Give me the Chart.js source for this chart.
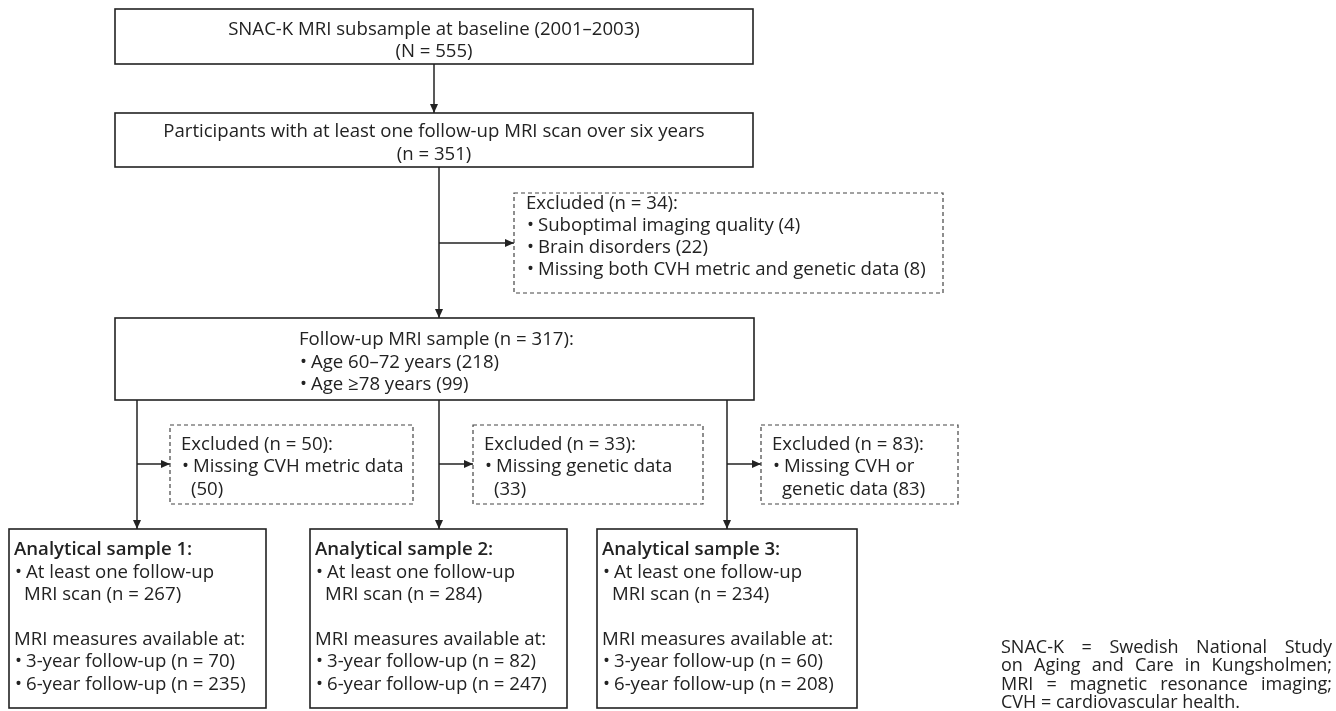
<!DOCTYPE html>
<html>
<head>
<meta charset="utf-8">
<script src="https://cdn.jsdelivr.net/npm/chart.js@4/dist/chart.umd.min.js"></script>
<style>
  html, body { margin: 0; padding: 0; background: #fff; }
  #wrap { width: 1336px; height: 711px; }
</style>
</head>
<body>
<div id="wrap"><canvas id="flow"></canvas></div>
<script>
// counts
const baselineN = 555;
const followUpN = 351;
const excludedScanReasons = ['Suboptimal imaging quality', 'Brain disorders', 'Missing both CVH metric and genetic data'];
const excludedScanCounts = [4, 22, 8];
const ageGroups = ['Age 60–72 years', 'Age ≥78 years'];
const ageCounts = [218, 99];
const branchReasons = [['Missing CVH metric data', '(%n)'], ['Missing genetic data', '(%n)'], ['Missing CVH or', 'genetic data (%n)']];
const branchExcluded = [50, 33, 83];
const sampleScanN = [267, 284, 234];
const sample3yr = [70, 82, 60];
const sample6yr = [235, 247, 208];
const footnote = [
  'SNAC-K = Swedish National Study',
  'on Aging and Care in Kungsholmen;',
  'MRI = magnetic resonance imaging;',
  'CVH = cardiovascular health.'
];

const sum = a => a.reduce((s, v) => s + v, 0);
const followUpSample = followUpN - sum(excludedScanCounts);

// layout of the boxes (diagram units)
const topBox = { x0: 115, y0: 9, x1: 753, y1: 64 };
const partBox = { x0: 115, y0: 113, x1: 753, y1: 167 };
const exclBox = { x0: 514, y0: 193, x1: 943, y1: 293 };
const mriBox = { x0: 115, y0: 318, x1: 754, y1: 400 };
const branchX = [137, 439, 727];
const branchBoxes = [
  { x0: 170, y0: 425, x1: 413, y1: 504 },
  { x0: 473, y0: 425, x1: 703, y1: 504 },
  { x0: 761, y0: 425, x1: 958, y1: 504 }
];
const sampleBoxes = [
  { x0: 9, y0: 529, x1: 266, y1: 708 },
  { x0: 310, y0: 529, x1: 567, y1: 708 },
  { x0: 597, y0: 529, x1: 857, y1: 708 }
];

const FONT = '"Open Sans", "Noto Sans", sans-serif';
const FS = 18.6;
const INK = '#222';
const TEXT_DY = 2.5; // canvas 'middle' sits a bit high for Open Sans

const flowPlugin = {
  id: 'flow',
  afterDraw(chart) {
    const { ctx } = chart;
    const xs = chart.scales.x, ys = chart.scales.y;
    const px = v => xs.getPixelForValue(v);
    const py = v => ys.getPixelForValue(v);

    ctx.save();
    ctx.strokeStyle = INK;
    ctx.fillStyle = INK;

    const box = (b, dashed) => {
      ctx.save();
      ctx.lineWidth = dashed ? 1.2 : 1.6;
      ctx.strokeStyle = dashed ? '#444' : INK;
      ctx.setLineDash(dashed ? [4, 3] : []);
      ctx.strokeRect(px(b.x0), py(b.y0), px(b.x1) - px(b.x0), py(b.y1) - py(b.y0));
      ctx.restore();
    };
    const line = (x0, y0, x1, y1) => {
      ctx.lineWidth = 1.5;
      ctx.beginPath();
      ctx.moveTo(px(x0), py(y0));
      ctx.lineTo(px(x1), py(y1));
      ctx.stroke();
    };
    const arrow = (x0, y0, x1, y1) => {
      const ang = Math.atan2(py(y1) - py(y0), px(x1) - px(x0));
      const L = 9, W = 4;
      const tx = px(x1), ty = py(y1);
      const bx = tx - L * Math.cos(ang), by = ty - L * Math.sin(ang);
      line(x0, y0, x1, y1);
      ctx.beginPath();
      ctx.moveTo(tx, ty);
      ctx.lineTo(bx + W * Math.sin(ang), by - W * Math.cos(ang));
      ctx.lineTo(bx - W * Math.sin(ang), by + W * Math.cos(ang));
      ctx.closePath();
      ctx.fill();
    };
    const text = (s, x, y, align, bold, size) => {
      ctx.font = (bold ? '600 ' : '') + (size || FS) + 'px ' + FONT;
      ctx.textAlign = align || 'left';
      ctx.textBaseline = 'middle';
      ctx.fillText(s, px(x), py(y + TEXT_DY));
    };
    const bullet = (s, x, y) => {
      text('•', x + 1, y);
      text(s, x + 12, y);
    };

    // top boxes
    box(topBox);
    text('SNAC-K MRI subsample at baseline (2001–2003)', 434, 27, 'center');
    text('(N = ' + baselineN + ')', 434, 49, 'center');
    arrow(434, topBox.y1, 434, partBox.y0);

    box(partBox);
    text('Participants with at least one follow-up MRI scan over six years', 434, 129, 'center');
    text('(n = ' + followUpN + ')', 434, 152, 'center');

    arrow(439, partBox.y1, 439, mriBox.y0);
    arrow(439, 243, exclBox.x0, 243);

    box(exclBox, true);
    text('Excluded (n = ' + sum(excludedScanCounts) + '):', 526, 201);
    excludedScanReasons.forEach((r, i) => bullet(r + ' (' + excludedScanCounts[i] + ')', 526, 223 + i * 22));

    box(mriBox);
    text('Follow-up MRI sample (n = ' + followUpSample + '):', 299, 337);
    ageGroups.forEach((g, i) => bullet(g + ' (' + ageCounts[i] + ')', 299, 360 + i * 22));

    // three branches
    branchX.forEach((bx, i) => {
      const eb = branchBoxes[i], sb = sampleBoxes[i];
      arrow(bx, mriBox.y1, bx, sb.y0);
      arrow(bx, 464, eb.x0, 464);
      box(eb, true);
      const tx = eb.x0 + 11;
      text('Excluded (n = ' + branchExcluded[i] + '):', tx, 442);
      bullet(branchReasons[i][0], tx, 464);
      text(branchReasons[i][1].replace('%n', branchExcluded[i]), tx + 10, 487);

      box(sb);
      const sx = sb.x0 + 5;
      text('Analytical sample ' + (i + 1) + ':', sx, 547, 'left', true);
      bullet('At least one follow-up', sx, 570);
      text('MRI scan (n = ' + sampleScanN[i] + ')', sx + 10, 592);
      text('MRI measures available at:', sx, 637);
      bullet('3-year follow-up (n = ' + sample3yr[i] + ')', sx, 659);
      bullet('6-year follow-up (n = ' + sample6yr[i] + ')', sx, 682);
    });

    // justified footnote
    const fx0 = px(1001), fx1 = px(1332);
    ctx.font = '18px ' + FONT;
    ctx.textAlign = 'left';
    ctx.textBaseline = 'middle';
    footnote.forEach((ln, i) => {
      const y = py(645 + TEXT_DY + i * 18.5);
      const words = ln.split(' ');
      if (i === footnote.length - 1) { ctx.fillText(ln, fx0, y); return; }
      const wsum = sum(words.map(w => ctx.measureText(w).width));
      const gap = (fx1 - fx0 - wsum) / (words.length - 1);
      let cx = fx0;
      words.forEach(w => { ctx.fillText(w, cx, y); cx += ctx.measureText(w).width + gap; });
    });

    ctx.restore();
  }
};

new Chart(document.getElementById('flow'), {
  type: 'scatter',
  data: { datasets: [{ data: [], pointRadius: 0 }] },
  options: {
    responsive: true,
    maintainAspectRatio: false,
    animation: false,
    layout: { padding: 0 },
    plugins: { legend: { display: false }, tooltip: { enabled: false } },
    scales: {
      x: { type: 'linear', min: 0, max: 1336, display: false },
      y: { type: 'linear', min: 0, max: 711, reverse: true, display: false }
    }
  },
  plugins: [flowPlugin]
});
</script>
</body>
</html>
